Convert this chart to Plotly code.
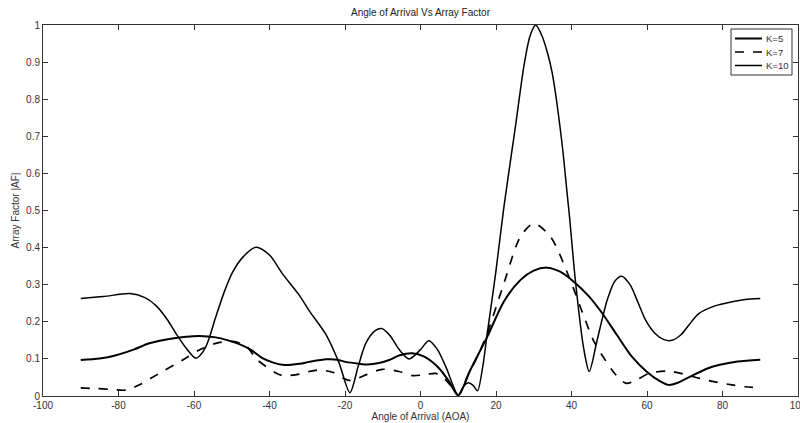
import plotly.graph_objects as go

# K=5 (solid, thicker)
k5_x = [-90, -85, -80.6, -76, -71.8, -65.7, -62, -58.6, -54.2, -51, -48, -45, -42, -39, -36.6, -32, -29.5, -25, -22, -19.8, -16.3, -14, -11, -8.3, -5.7, -2.2, 1, 4.9, 7.5, 10,
        13.2, 17.7, 22.1, 26.5, 30, 33.5, 37, 40.6, 44.5, 48, 52, 56, 60, 63.4, 65.6, 68, 72, 76, 79.3, 84, 90]
k5_y = [0.097, 0.101, 0.110, 0.125, 0.142, 0.155, 0.160, 0.162, 0.158, 0.150, 0.140, 0.125, 0.103, 0.090, 0.084, 0.087, 0.092, 0.099, 0.098, 0.092, 0.087, 0.085, 0.089, 0.097, 0.109, 0.115, 0.106, 0.075, 0.040, 0.002,
        0.070, 0.160, 0.255, 0.313, 0.338, 0.346, 0.335, 0.308, 0.270, 0.225, 0.165, 0.106, 0.065, 0.040, 0.030, 0.035, 0.055, 0.074, 0.084, 0.093, 0.098]

# K=7 (dashed)
k7_x = [-90, -86, -82.4, -78, -74.5, -69.2, -63, -58.6, -54.2, -49.8, -46.2, -43.5, -41, -38.5, -36.6, -32, -29.5, -27, -23.3, -20.5, -18.9, -16.5, -14.5, -10.1, -5.7, -2.2, 1.5, 4, 5.8, 8, 10,
        12.4, 15, 17.7, 22.1, 26.5, 30, 34.4, 39.3, 43.3, 45.8, 48.1, 51.5, 54.5, 57.5, 60.5, 65.5, 69.5, 73.7, 78, 82.5, 86, 90]
k7_y = [0.022, 0.020, 0.018, 0.016, 0.030, 0.061, 0.097, 0.124, 0.142, 0.147, 0.135, 0.100, 0.080, 0.063, 0.055, 0.059, 0.066, 0.070, 0.064, 0.048, 0.042, 0.048, 0.057, 0.072, 0.066, 0.055, 0.058, 0.061, 0.052, 0.028, 0.002,
        0.052, 0.105, 0.169, 0.304, 0.430, 0.465, 0.430, 0.322, 0.214, 0.150, 0.110, 0.060, 0.034, 0.045, 0.061, 0.067, 0.060, 0.048, 0.038, 0.030, 0.025, 0.022]

# K=10 (solid, thin)
k10_x = [-90, -84, -77, -73, -70, -67, -64.8, -62, -59.5, -57, -54.2, -52, -49.8, -47, -43.6, -40, -36.6, -32, -29.5, -25, -21.6, -18.7, -16.5, -14.5, -12, -10.3, -8, -5.7, -3, 0, 2.2, 4.5, 6.7, 10,
         11.5, 12.7, 14, 15.1, 16.5, 17.7, 19.9, 22.1, 25.2, 27.4, 29, 30.5, 32, 33.5, 34.9, 37.5, 38.8, 39.5, 41.1, 43.3, 44.7, 46.8, 49.5, 51.5, 53.3, 55.5, 57.5, 59.6, 62, 64.5, 66.6, 69, 71, 73.7, 78, 82.5, 86, 90]
k10_y = [0.263, 0.268, 0.276, 0.265, 0.243, 0.205, 0.169, 0.128, 0.102, 0.130, 0.214, 0.280, 0.333, 0.375, 0.401, 0.380, 0.330, 0.270, 0.230, 0.165, 0.090, 0.009, 0.080, 0.142, 0.176, 0.182, 0.162, 0.126, 0.100, 0.125, 0.149, 0.125, 0.079, 0.003,
         0.028, 0.036, 0.028, 0.014, 0.080, 0.170, 0.330, 0.510, 0.730, 0.890, 0.970, 1.000, 0.975, 0.930, 0.870, 0.680, 0.550, 0.480, 0.304, 0.124, 0.066, 0.151, 0.260, 0.310, 0.323, 0.300, 0.255, 0.205, 0.170, 0.152, 0.150, 0.165, 0.190, 0.222, 0.243, 0.254, 0.260, 0.263]

x_ticks = [-100, -80, -60, -40, -20, 0, 20, 40, 60, 80, 100]
y_ticks = [0, 0.1, 0.2, 0.3, 0.4, 0.5, 0.6, 0.7, 0.8, 0.9, 1]
y_tick_labels = ["0", "0.1", "0.2", "0.3", "0.4", "0.5", "0.6", "0.7", "0.8", "0.9", "1"]

FONT = "Liberation Sans, Arial, sans-serif"
TXT = "#333333"

series = [
    ("K=5", k5_x, k5_y, dict(color="black", width=2)),
    ("K=7", k7_x, k7_y, dict(color="black", width=1.7, dash="dash")),
    ("K=10", k10_x, k10_y, dict(color="black", width=1.5)),
]

fig = go.Figure()
for name, xs, ys, ln in series:
    fig.add_trace(go.Scatter(x=xs, y=ys, name=name, mode="lines", showlegend=False,
                             line=dict(shape="spline", smoothing=0.8, **ln)))

# MATLAB-style legend box drawn in paper coordinates
W, H = 800, 423
L, R, T, B = 43, 2, 25, 27
pw, ph = W - L - R, H - T - B


def px_to_paper_x(px):
    return (px - L) / pw


def py_to_paper_y(py):
    return (H - B - py) / ph


fig.add_shape(type="rect", xref="paper", yref="paper",
              x0=px_to_paper_x(731), x1=px_to_paper_x(792),
              y0=py_to_paper_y(75), y1=py_to_paper_y(29),
              line=dict(color=TXT, width=1), fillcolor="white", layer="above")
for i, (name, _, _, ln) in enumerate(series):
    yy = py_to_paper_y(38.5 + 13.5 * i)
    fig.add_shape(type="line", xref="paper", yref="paper",
                  x0=px_to_paper_x(735), x1=px_to_paper_x(762), y0=yy, y1=yy,
                  line=dict(color="black", width=ln["width"], dash=ln.get("dash", "solid")), layer="above")
    fig.add_annotation(x=px_to_paper_x(764), y=yy, xref="paper", yref="paper", text=name,
                       showarrow=False, xanchor="left", yanchor="middle",
                       font=dict(family=FONT, size=9.5, color=TXT))

axis_common = dict(showline=True, linecolor=TXT, linewidth=1, mirror="ticks",
                   ticks="inside", ticklen=5, tickcolor=TXT, showgrid=False,
                   zeroline=False, automargin=False, ticklabeloverflow="allow",
                   tickfont=dict(family=FONT, size=10, color=TXT))

fig.update_layout(
    width=W, height=H,
    template="none",
    paper_bgcolor="white", plot_bgcolor="white",
    margin=dict(l=L, r=R, t=T, b=B),
    title=dict(text="Angle of Arrival Vs Array Factor", x=0.5, xref="paper", y=1 - 12 / H, yanchor="middle",
               font=dict(family=FONT, size=10, color="#222222")),
    xaxis=dict(range=[-100, 100], tickvals=x_ticks, ticktext=[str(v) for v in x_ticks],
               title=dict(text="Angle of Arrival (AOA)", font=dict(family=FONT, size=10, color=TXT), standoff=2),
               **axis_common),
    yaxis=dict(range=[0, 1], tickvals=y_ticks, ticktext=y_tick_labels,
               title=dict(text="Array Factor |AF|", font=dict(family=FONT, size=10, color=TXT), standoff=4),
               **axis_common),
    showlegend=False,
)

fig.write_html("out.html", config={"displayModeBar": False},
               post_script="document.body.style.margin='0';document.body.style.overflow='hidden';")
